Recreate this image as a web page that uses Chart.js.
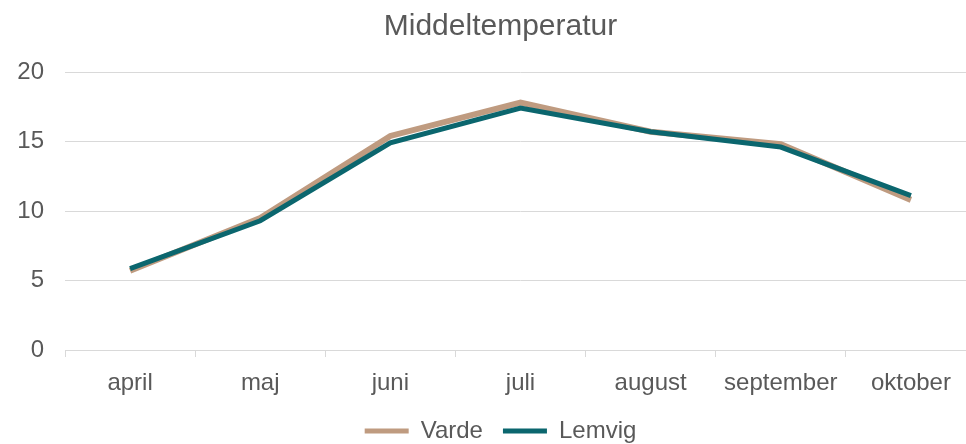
<!DOCTYPE html>
<html>
<head>
<meta charset="utf-8">
<script src="https://cdn.jsdelivr.net/npm/chart.js@4/dist/chart.umd.min.js"></script>
<style>
  html, body { margin: 0; padding: 0; background: #fff; overflow: hidden; }
  #wrap { width: 1001px; height: 444px; }
</style>
</head>
<body>
<div id="wrap"><canvas id="chart" width="1001" height="444"></canvas></div>
<script>
const months = ['april', 'maj', 'juni', 'juli', 'august', 'september', 'oktober'];
const varde = [5.7, 9.5, 15.4, 17.8, 15.7, 14.8, 10.8];
const lemvig = [5.85, 9.3, 14.9, 17.4, 15.7, 14.6, 11.1];

const textColor = '#595959';
const gridColor = '#D9D9D9';
const fontFamily = '"Liberation Sans", Arial, sans-serif';

// the y labels sit left of the layout padding, so widen the label clip area
const unclipYLabels = {
  id: 'unclipYLabels',
  afterLayout(chart) {
    chart.scales.y.left = 0;
  },
};

const ctx = document.getElementById('chart');
new Chart(ctx, {
  type: 'line',
  data: {
    labels: months,
    datasets: [
      {
        label: 'Varde',
        data: varde,
        borderColor: '#BF9B80',
        backgroundColor: '#BF9B80',
        borderWidth: 6,
        pointRadius: 0,
        tension: 0,
        order: 2,
      },
      {
        label: 'Lemvig',
        data: lemvig,
        borderColor: '#0B666E',
        backgroundColor: '#0B666E',
        borderWidth: 5,
        pointRadius: 0,
        tension: 0,
        order: 1,
      },
    ],
  },
  plugins: [unclipYLabels],
  options: {
    responsive: false,
    animation: false,
    layout: { padding: { left: 25, right: 25, top: 0, bottom: -9 } },
    plugins: {
      title: {
        display: true,
        text: 'Middeltemperatur',
        color: textColor,
        font: { family: fontFamily, size: 30, weight: 'normal' },
        padding: { top: 9, bottom: 27 },
      },
      legend: {
        position: 'bottom',
        labels: {
          color: textColor,
          font: { family: fontFamily, size: 24 },
          boxWidth: 44,
          boxHeight: 5,
          padding: 20,
          generateLabels: (chart) => chart.data.datasets.map((ds, i) => ({
            text: ds.label,
            fillStyle: ds.borderColor,
            strokeStyle: ds.borderColor,
            lineWidth: 0,
            fontColor: textColor,
            datasetIndex: i,
          })),
        },
      },
      tooltip: { enabled: false },
    },
    scales: {
      x: {
        offset: true,
        afterFit: (scale) => { scale.height = 49; },
        grid: {
          offset: true,
          drawOnChartArea: false,
          drawTicks: true,
          tickLength: 7,
          color: gridColor,
        },
        border: { display: true, color: gridColor, width: 1 },
        ticks: {
          color: textColor,
          font: { family: fontFamily, size: 24 },
          padding: 12,
          maxRotation: 0,
          autoSkip: false,
        },
      },
      y: {
        min: 0,
        max: 20,
        afterFit: (scale) => { scale.width = 40; },
        grid: { color: gridColor, drawTicks: false },
        border: { display: false },
        ticks: {
          stepSize: 5,
          color: textColor,
          font: { family: fontFamily, size: 24 },
          padding: 21,
        },
      },
    },
  },
});
</script>
</body>
</html>
